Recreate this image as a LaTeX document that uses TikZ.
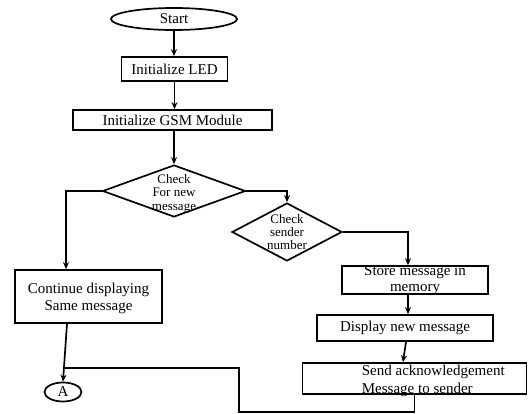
\documentclass[tikz,border=0pt]{standalone}
\usepackage{fontspec}
\setmainfont{Liberation Serif}
\usetikzlibrary{shapes.geometric,arrows.meta,calc}
\begin{document}
\begin{tikzpicture}[x=1pt,y=-1pt,
  line width=1.7pt,
  box/.style={draw,rectangle,inner sep=0pt},
  dia/.style={draw,diamond,inner sep=0pt},
  ell/.style={draw,ellipse,inner sep=0pt},
  txt/.style={font=\fontsize{15}{17}\selectfont,align=center,inner sep=0pt},
  stxt/.style={font=\fontsize{13}{13.5}\selectfont,align=center,inner sep=0pt},
  arr/.style={-{Stealth[length=7pt,width=6pt]}},
]
\useasboundingbox (0,0) rectangle (528,414);
% shapes
\node[ell,txt,minimum width=126pt,minimum height=22pt] (start) at (174,19) {Start};
\node[box,txt,minimum width=106pt,minimum height=24pt] (led) at (174.5,69) {Initialize LED};
\node[box,txt,minimum width=199pt,minimum height=20pt] (gsm) at (172.5,120) {Initialize GSM Module};
\node[dia,minimum width=143pt,minimum height=52pt] (d1) at (174,191) {};
\node[stxt] (td1) at (174,193.5) {Check\\For new\\message};
\node[dia,minimum width=110pt,minimum height=58pt] (d2) at (287,232) {};
\node[stxt,font=\fontsize{13}{13}\selectfont] (td2) at (287,232) {Check\\sender\\number};
\node[box,minimum width=147pt,minimum height=53pt] (cont) at (88.5,296.5) {};
\node[txt] (tcont) at (88.5,298.5) {Continue displaying\\Same message};
\node[box,minimum width=146pt,minimum height=28pt] (store) at (415,280) {};
\node[txt,font=\fontsize{15}{16}\selectfont] (tstore) at (415,280) {Store message in\\memory};
\node[box,txt,minimum width=176pt,minimum height=26pt] (disp) at (405,328) {Display new message};
\node[box,minimum width=224pt,minimum height=31pt] (send) at (414.5,378.5) {};
\node[txt,align=left,anchor=west,font=\fontsize{15}{17.5}\selectfont] (tsend) at (361,381) {Send acknowledgement\\Message to sender};
\node[ell,txt,minimum width=37pt,minimum height=19pt] (A) at (63,392) {A};
% connectors
\draw[arr] (start.south) -- (start.south |- led.north);
\draw[arr] (led.south) -- (led.south |- gsm.north);
\draw[arr] (d1.north |- gsm.south) -- (d1.north);
\draw[arr] (d1.west) -| ([xshift=-22.5pt]cont.north);
\draw[arr] (d1.east) -| (d2.north);
\draw[arr] (d2.east) -| ([xshift=-7pt]store.north);
\draw[arr] ([xshift=-7pt]store.south) -- ([xshift=-7pt]store.south |- disp.north);
\draw[arr] ([xshift=1pt]disp.south) -- ([xshift=-11.5pt]send.north);
\draw[arr] ([xshift=-21.5pt]cont.south) -- (A.north);
\coordinate (loopturn) at (239,368);
\coordinate (join) at (65,368);
\draw (send.south) -- ++(0,17) -| (loopturn) -- (join);
\end{tikzpicture}
\end{document}
